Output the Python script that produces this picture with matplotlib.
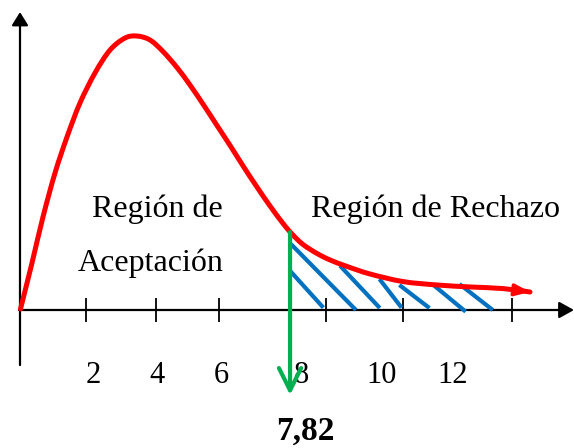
import matplotlib
matplotlib.use("Agg")
import matplotlib.pyplot as plt
from matplotlib.path import Path
from matplotlib.patches import PathPatch

# ---- data ----
curve_x = [0.014, 0.331, 0.635, 0.967, 1.298, 1.657, 2.072, 2.486, 2.901, 3.232,
           3.591, 3.950, 4.337, 4.696, 5.055, 5.442, 5.829, 6.188, 6.547, 6.906,
           7.265, 7.514, 7.818, 8.204, 8.564, 9.033, 9.669, 10.580, 11.519,
           12.431, 13.343, 14.088]
curve_y = [0.0006, 0.0261, 0.0517, 0.0761, 0.0961, 0.1150, 0.1317, 0.1444, 0.1511,
           0.1522, 0.1500, 0.1436, 0.1347, 0.1250, 0.1144, 0.1025, 0.0906, 0.0792,
           0.0683, 0.0578, 0.0481, 0.0422, 0.0364, 0.0314, 0.0278, 0.0242, 0.0200,
           0.0158, 0.0139, 0.0128, 0.0119, 0.0100]

tick_mark_x = [1.82, 3.76, 5.50, 8.45, 10.58, 13.59]
tick_labels = ['2', '4', '6', '8', '10', '12']
tick_label_x = [2.02, 3.79, 5.55, 7.79, 10.00, 11.96]

crit_x = 7.46
crit_label = '7,82'

hatch_x0 = [7.44, 7.48, 8.84, 9.93, 10.48, 11.42, 12.14]
hatch_y0 = [0.0222, 0.0367, 0.0246, 0.0172, 0.0139, 0.0139, 0.0144]
hatch_x1 = [8.38, 9.28, 9.94, 10.54, 11.31, 12.31, 13.06]
hatch_y1 = [0.0013, 0.0, 0.0011, 0.0013, 0.0011, -0.0009, 0.0]

accept_label = ['Región de', 'Aceptación']
reject_label = 'Región de Rechazo'

# ---- styles ----
RED = '#FF0000'
BLUE = '#0070C0'
GREEN = '#00B050'
FONT = 'Liberation Serif'

fig = plt.figure(figsize=(5.74, 4.48), dpi=100)
ax = fig.add_axes([0, 0, 1, 1])
ax.set_xlim(-0.5525, 15.304)
ax.set_ylim(-0.07667, 0.17222)
ax.axis('off')

# axes with arrows
ax.annotate('', xy=(15.304, 0), xytext=(-0.03, 0),
            arrowprops=dict(arrowstyle='-|>,head_length=0.9,head_width=0.5',
                            mutation_scale=10, lw=1.6, color='black',
                            shrinkA=0, shrinkB=0))
ax.annotate('', xy=(0, 0.1655), xytext=(0, -0.0306),
            arrowprops=dict(arrowstyle='-|>,head_length=0.8,head_width=0.5',
                            mutation_scale=10, lw=1.6, color='black',
                            shrinkA=0, shrinkB=0))

# tick marks
ax.vlines(tick_mark_x, -0.0067, 0.0067, colors='black', lw=1.3)

# tick labels
for lx, lab in zip(tick_label_x, tick_labels):
    ax.text(lx, -0.0406, lab, ha='center', va='baseline', fontsize=22,
            family=FONT, color='black')

# hatch lines
for x0, y0, x1, y1 in zip(hatch_x0, hatch_y0, hatch_x1, hatch_y1):
    ax.plot([x0, x1], [y0, y1], color=BLUE, lw=3.0, solid_capstyle='butt', zorder=3)

# curve: smooth path (Catmull-Rom rendered as cubic Bezier) through the read points
pts = list(zip(curve_x, curve_y))
verts = [pts[0]]
codes = [Path.MOVETO]
n = len(pts)
for i in range(n - 1):
    p0 = pts[i - 1] if i > 0 else pts[i]
    p1 = pts[i]
    p2 = pts[i + 1]
    p3 = pts[i + 2] if i + 2 < n else pts[i + 1]
    c1 = (p1[0] + (p2[0] - p0[0]) / 6.0, p1[1] + (p2[1] - p0[1]) / 6.0)
    c2 = (p2[0] - (p3[0] - p1[0]) / 6.0, p2[1] - (p3[1] - p1[1]) / 6.0)
    verts += [c1, c2, p2]
    codes += [Path.CURVE4, Path.CURVE4, Path.CURVE4]
ax.add_patch(PathPatch(Path(verts, codes), facecolor='none', edgecolor=RED,
                       lw=3.6, capstyle='round', joinstyle='round', zorder=4))
ax.annotate('', xy=(curve_x[-1], curve_y[-1]), xytext=(curve_x[-2], curve_y[-2]),
            arrowprops=dict(arrowstyle='-|>,head_length=0.9,head_width=0.35',
                            mutation_scale=10, lw=2.5, color=RED,
                            shrinkA=0, shrinkB=0), zorder=4)

# critical value arrow
ax.annotate('', xy=(crit_x, -0.0472), xytext=(crit_x, 0.0433),
            arrowprops=dict(arrowstyle='->,head_length=1.6,head_width=0.8',
                            mutation_scale=10, lw=3.0, color=GREEN,
                            shrinkA=0, shrinkB=0), zorder=5)
ax.text(7.87, -0.0722, crit_label, ha='center', va='baseline', fontsize=24,
        fontweight='bold', family=FONT, color='black')

# region labels
ax.text(3.80, 0.0517, accept_label[0], ha='center', va='baseline', fontsize=23,
        family=FONT)
ax.text(3.61, 0.0217, accept_label[1], ha='center', va='baseline', fontsize=23,
        family=FONT)
ax.text(11.48, 0.0517, reject_label, ha='center', va='baseline', fontsize=23,
        family=FONT)

fig.savefig('out.png', dpi=100)
